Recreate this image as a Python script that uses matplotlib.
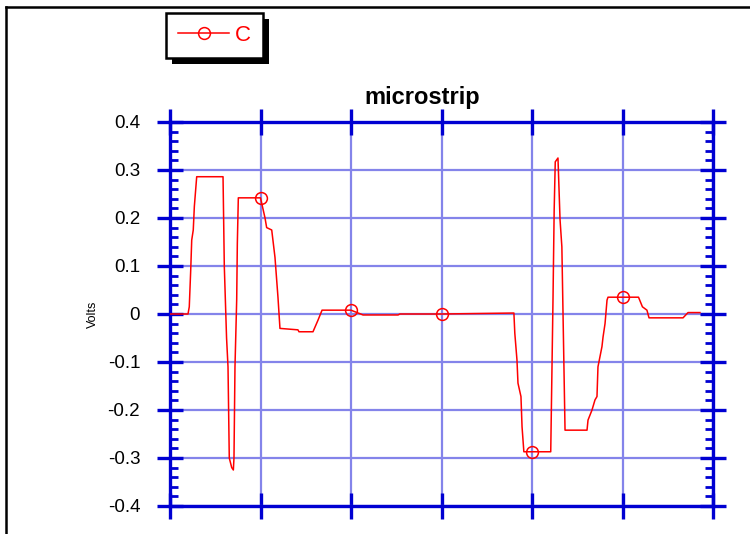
import matplotlib
matplotlib.use("Agg")
import matplotlib.pyplot as plt
from matplotlib.patches import Rectangle
from matplotlib.lines import Line2D
from matplotlib.ticker import MultipleLocator, FixedLocator

plt.rcParams['font.family'] = ['Liberation Sans', 'DejaVu Sans']

# waveform "C" (x in tick units, y in volts)
timeVals = [0.0, 0.199, 0.213, 0.229, 0.24, 0.257, 0.269, 0.295, 0.586,
            0.60, 0.625, 0.641, 0.655, 0.682, 0.70, 0.707, 0.718, 0.737,
            0.744, 0.755, 1.0, 1.05, 1.068, 1.124, 1.16, 1.193, 1.215,
            1.414, 1.425, 1.58, 1.635, 1.68, 2.0, 2.133, 2.52, 2.54, 3.0,
            3.80, 3.81, 3.834, 3.845, 3.878, 3.89, 3.91, 4.0, 4.207, 4.232,
            4.245, 4.257, 4.287, 4.31, 4.33, 4.365, 4.608, 4.619, 4.663,
            4.696, 4.718, 4.729, 4.773, 4.785, 4.807, 4.829, 4.84, 5.0,
            5.177, 5.22, 5.27, 5.293, 5.669, 5.724, 5.856]
voltVals = [0.0, 0.0, 0.015, 0.092, 0.154, 0.175, 0.224, 0.286, 0.286,
            0.10, -0.05, -0.11, -0.30, -0.32, -0.325, -0.30, -0.11, 0.03,
            0.147, 0.242, 0.242, 0.20, 0.18, 0.175, 0.118, 0.035, -0.03,
            -0.033, -0.037, -0.037, -0.013, 0.008, 0.008, -0.002, -0.002, 0.0, 0.0,
            0.002, -0.04, -0.096, -0.144, -0.172, -0.235, -0.287, -0.287, -0.287, 0.03,
            0.217, 0.317, 0.325, 0.196, 0.14, -0.242, -0.242, -0.221, -0.2,
            -0.179, -0.172, -0.11, -0.068, -0.048, -0.02, 0.029, 0.035, 0.035,
            0.035, 0.015, 0.008, -0.008, -0.008, 0.003, 0.003]
markerTimes = [1.0, 2.0, 3.0, 4.0, 5.0]
yTickVals = [-0.4, -0.3, -0.2, -0.1, 0.0, 0.1, 0.2, 0.3, 0.4]
yTickLabels = ["-0.4", "-0.3", "-0.2", "-0.1", "0", "0.1", "0.2", "0.3", "0.4"]

blue = "#0000d2"
gridBlue = "#8484ea"

fig = plt.figure(figsize=(7.5, 5.34), dpi=100)
ax = fig.add_axes([170/750, 1-506/534, (713-170)/750, (506-122)/534])

markIdx = [timeVals.index(t) for t in markerTimes]
ax.plot(timeVals, voltVals, color="red", linewidth=1.1, marker="o",
        markevery=markIdx, markersize=8.5, markerfacecolor="none",
        markeredgecolor="red", markeredgewidth=1.1, zorder=3)

ax.set_xlim(0, 6)
ax.set_ylim(-0.4, 0.4)
ax.xaxis.set_major_locator(MultipleLocator(1))
ax.yaxis.set_major_locator(FixedLocator(yTickVals))
ax.set_yticklabels(yTickLabels)
ax.yaxis.set_minor_locator(MultipleLocator(0.02))

ax.grid(True, which="major", color=gridBlue, linewidth=1.6, zorder=1)
ax.set_axisbelow(True)

for sp in ax.spines.values():
    sp.set_color(blue)
    sp.set_linewidth(2.4)

ax.tick_params(axis="both", which="major", direction="inout", length=19,
               width=2.4, color=blue, top=True, right=True,
               labelbottom=False, labelsize=13.5, pad=12)
ax.tick_params(axis="y", which="minor", direction="in", length=5.5,
               width=2.0, color=blue, left=True, right=True)
ax.tick_params(axis="x", which="minor", bottom=False, top=False)

ax.set_ylabel("Volts", fontsize=9)
ax.yaxis.set_label_coords(-0.131, 0.5)

ax.text(0.464, 1.063, "microstrip", transform=ax.transAxes, ha="center",
        va="center", fontsize=17, fontweight="bold")

# outer frame (left and top edges only visible)
fig.add_artist(Line2D([6/750, 6/750], [0, 1-6.5/534], color="black",
                      linewidth=1.8, transform=fig.transFigure))
fig.add_artist(Line2D([6/750, 1], [1-6.5/534, 1-6.5/534], color="black",
                      linewidth=1.8, transform=fig.transFigure))

# legend with solid black drop shadow
leg = fig.legend(loc="upper left", bbox_to_anchor=(166/750, 1-13/534),
                 borderaxespad=0, fontsize=16, handlelength=2.3,
                 handletextpad=0.25, borderpad=0.55, fancybox=False,
                 edgecolor="black", framealpha=1, labelcolor="red",
                 labels=["C"], handles=ax.get_lines())
leg.get_frame().set_linewidth(1.8)
leg.set_zorder(6)
fig.canvas.draw()
bb = leg.get_window_extent()
fig.add_artist(Rectangle(((bb.x0 + 6)/750, (bb.y0 - 6)/534), bb.width/750,
                         bb.height/534, facecolor="black", edgecolor="none",
                         transform=fig.transFigure, zorder=5))

fig.savefig("out.png", dpi=100)
